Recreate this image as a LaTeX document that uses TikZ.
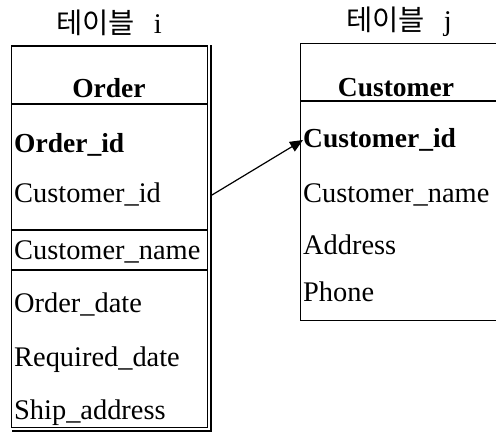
\documentclass[tikz,border=0pt]{standalone}
\usepackage{fontspec}
\setmainfont{Liberation Serif}
\newfontfamily\cjk{Noto Sans CJK KR}
\usetikzlibrary{arrows.meta}
\tikzset{
  frame/.style={draw=black, line width=1.3pt},
  rowtxt/.style={anchor=base west, inner sep=0pt, font=\fontsize{28.4}{31}\selectfont},
  keytxt/.style={anchor=base west, inner sep=0pt, font=\fontsize{27.5}{30}\selectfont\bfseries},
  headtxt/.style={anchor=base, inner sep=0pt, font=\fontsize{27.5}{30}\selectfont\bfseries},
  titletxt/.style={anchor=center, inner sep=0pt, font=\fontsize{28.5}{30}\selectfont},
  fk/.style={draw=black, line width=1.2pt, -{Triangle[length=13pt,width=11pt]}}
}
\begin{document}
\begin{tikzpicture}[x=1pt,y=-1pt]
\useasboundingbox (0,0) rectangle (496,434);
\clip (0,0) rectangle (496,434);
% left table
\node[frame, anchor=north west, minimum width=196pt, minimum height=381pt, inner sep=0pt] (ltab) at (11,46) {};
\draw[frame, line width=2pt] (ltab.north west) -- (ltab.north east);
\draw[draw=black, line width=1.2pt] (211,45) -- (211,431) -- (12,431);
\draw[frame] (11,104) -- (207,104);
\draw[frame] (11,230) -- (207,230);
\draw[frame] (11,270) -- (207,270);
\node[titletxt] (ltitle) at (109,23) {{\cjk 테이블}\hspace{19pt}i};
\node[headtxt] (lhead) at (109,97) {Order};
\node[keytxt] (l1) at (14,152) {Order\_id};
\node[rowtxt] (l2) at (14,202) {Customer\_id};
\node[rowtxt] (l3) at (14,259) {Customer\_name};
\node[rowtxt] (l4) at (14,312) {Order\_date};
\node[rowtxt] (l5) at (14,366) {Required\_date};
\node[rowtxt] (l6) at (14,419) {Ship\_address};
% right table
\node[frame, anchor=north west, minimum width=200pt, minimum height=277pt, inner sep=0pt] (rtab) at (300,43) {};
\draw[frame] (300,101) -- (500,101);
\node[titletxt] (rtitle) at (399,22) {{\cjk 테이블}\hspace{19pt}j};
\node[headtxt] (rhead) at (396,96) {Customer};
\node[keytxt] (r1) at (303,147) {Customer\_id};
\node[rowtxt] (r2) at (303,202) {Customer\_name};
\node[rowtxt] (r3) at (303,254) {Address};
\node[rowtxt] (r4) at (303,301) {Phone};
% connector
\coordinate (fkstart) at (212,195);
\draw[fk] (fkstart) -- (r1.west |- 0,140);
\end{tikzpicture}
\end{document}
